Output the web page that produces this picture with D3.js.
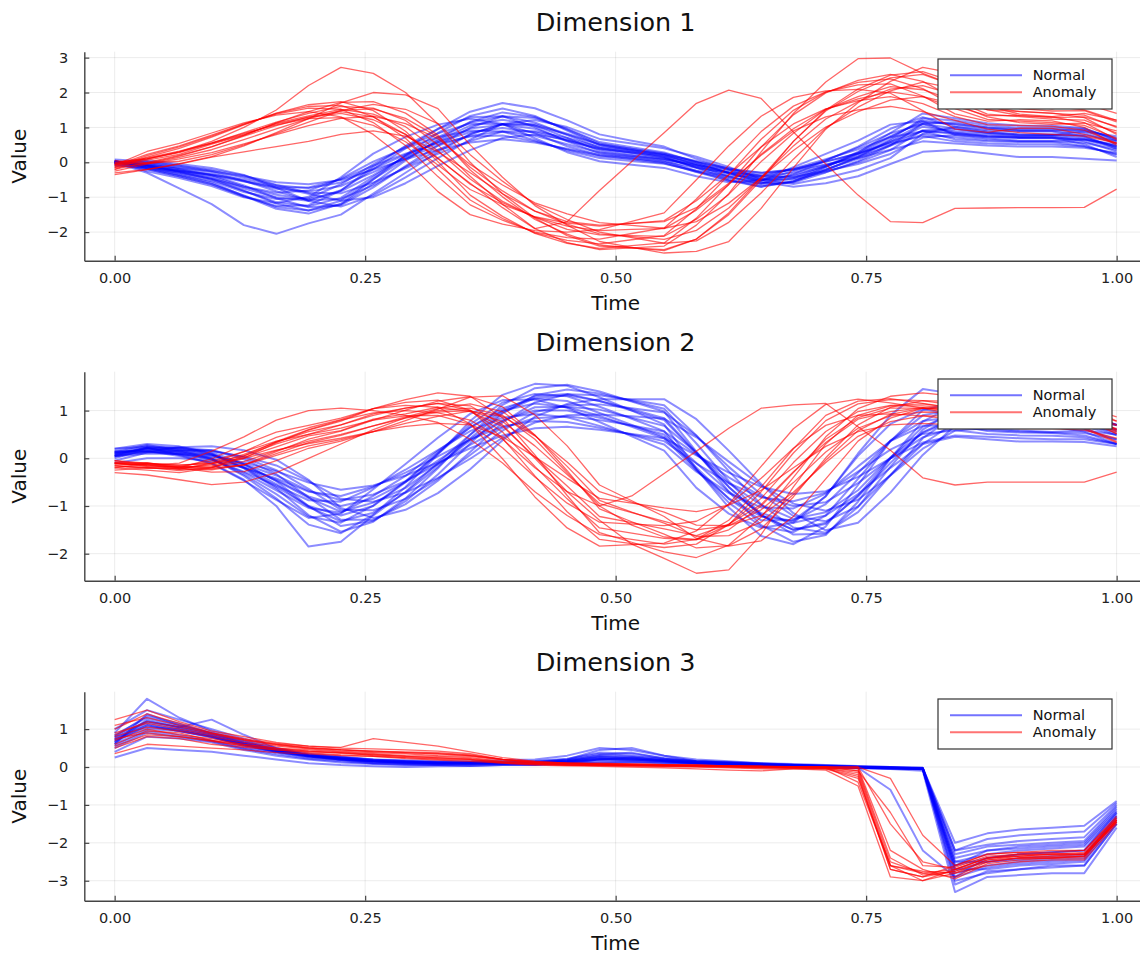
<!DOCTYPE html>
<html><head><meta charset="utf-8">
<script src="https://cdn.jsdelivr.net/npm/d3@7"></script>
<style>
body{margin:0;background:#fff;}
svg{display:block;font-family:"DejaVu Sans",sans-serif;}
</style>
</head><body>
<svg id="chart" width="1140" height="955"></svg>
<script>
// ---------------- data ----------------
const times = [0,0.0323,0.0645,0.0968,0.129,0.1613,0.1935,0.2258,0.2581,0.2903,0.3226,0.3548,0.3871,0.4194,0.4516,0.4839,0.5161,0.5484,0.5806,0.6129,0.6452,0.6774,0.7097,0.7419,0.7742,0.8065,0.8387,0.871,0.9032,0.9355,0.9677,1];
const xTickValues = [0, 0.25, 0.5, 0.75, 1];
const panelTitles = ["Dimension 1", "Dimension 2", "Dimension 3"];
const xLabel = "Time";
const yLabel = "Value";
const legendLabels = ["Normal", "Anomaly"];
const yTicks1 = [-2, -1, 0, 1, 2, 3];
const yTicks2 = [-2, -1, 0, 1];
const yTicks3 = [-3, -2, -1, 0, 1];
const yDomain1 = [-2.82, 3.17];
const yDomain2 = [-2.566, 1.815];
const yDomain3 = [-3.527, 1.987];

const dim1Normal = [
[0.02,-0.08,-0.26,-0.4,-0.7,-0.93,-1.06,-0.83,-0.37,0.17,0.58,0.97,1.08,0.96,0.63,0.37,0.24,0.1,-0.13,-0.33,-0.52,-0.36,-0.12,0.22,0.58,1.02,0.88,0.82,0.74,0.76,0.68,0.46],
[0.03,-0.2,-0.4,-0.63,-0.98,-1.25,-1.23,-0.81,-0.12,0.47,0.96,1.29,1.32,1.01,0.6,0.26,0.13,0,-0.28,-0.53,-0.61,-0.34,0.05,0.45,0.96,1.29,1.02,0.92,0.88,0.88,0.75,0.39],
[-0.02,-0.04,-0.2,-0.37,-0.66,-1.03,-1.29,-1.23,-0.72,-0.11,0.48,0.99,1.32,1.27,0.96,0.58,0.43,0.28,0,-0.31,-0.59,-0.58,-0.29,0.03,0.48,1.11,1.14,1,0.92,0.92,0.93,0.69],
[0.04,-0.16,-0.3,-0.47,-0.7,-0.87,-0.81,-0.47,0.02,0.41,0.72,0.91,0.88,0.63,0.34,0.12,0.04,-0.04,-0.24,-0.39,-0.41,-0.18,0.09,0.37,0.72,0.89,0.66,0.6,0.58,0.58,0.47,0.21],
[-0.03,0,-0.1,-0.21,-0.38,-0.65,-0.87,-0.89,-0.58,-0.17,0.24,0.61,0.88,0.89,0.7,0.44,0.34,0.24,0.04,-0.17,-0.39,-0.42,-0.25,-0.05,0.24,0.71,0.78,0.68,0.62,0.62,0.65,0.51],
[0.05,-0.26,-0.45,-0.68,-1,-1.17,-0.99,-0.43,0.25,0.73,1.08,1.25,1.1,0.69,0.29,0.03,-0.07,-0.16,-0.4,-0.57,-0.52,-0.14,0.24,0.62,1.08,1.18,0.78,0.72,0.71,0.71,0.52,0.15],
[-0.05,0.06,-0.05,-0.16,-0.36,-0.73,-1.11,-1.27,-0.95,-0.43,0.12,0.65,1.1,1.21,1.01,0.67,0.54,0.4,0.16,-0.13,-0.48,-0.62,-0.44,-0.22,0.12,0.82,1.02,0.88,0.79,0.79,0.88,0.75],
[0,-0.14,-0.35,-0.58,-0.96,-1.33,-1.47,-1.19,-0.49,0.21,0.84,1.33,1.54,1.33,0.91,0.49,0.33,0.16,-0.16,-0.49,-0.7,-0.54,-0.14,0.28,0.84,1.4,1.26,1.12,1.05,1.05,0.98,0.63],
[0,-0.06,-0.15,-0.26,-0.4,-0.57,-0.63,-0.51,-0.21,0.09,0.36,0.57,0.66,0.57,0.39,0.21,0.15,0.08,-0.08,-0.21,-0.3,-0.22,-0.06,0.12,0.36,0.6,0.54,0.48,0.45,0.45,0.42,0.27],
[-0.06,-0.2,-0.4,-0.62,-0.95,-1.28,-1.38,-1.1,-0.48,0.1,0.62,1.05,1.22,1.06,0.7,0.32,0.19,0.05,-0.25,-0.52,-0.7,-0.55,-0.22,0.14,0.62,1.1,0.97,0.85,0.8,0.8,0.73,0.44],
[0.08,0.02,-0.1,-0.24,-0.44,-0.66,-0.74,-0.58,-0.18,0.22,0.58,0.86,0.98,0.86,0.62,0.38,0.29,0.2,0,-0.18,-0.3,-0.2,0.02,0.26,0.58,0.9,0.82,0.74,0.7,0.7,0.66,0.46],
[0,-0.3,-0.75,-1.2,-1.8,-2.05,-1.75,-1.5,-0.9,-0.3,0.3,0.8,1.1,1.05,0.8,0.5,0.35,0.2,-0.05,-0.3,-0.5,-0.45,-0.2,0.1,0.5,0.9,0.85,0.75,0.7,0.7,0.65,0.4],
[0,-0.1,-0.25,-0.45,-0.75,-1,-1.1,-0.8,-0.2,0.4,0.95,1.45,1.7,1.55,1.2,0.8,0.62,0.45,0.1,-0.2,-0.45,-0.4,-0.1,0.3,0.75,1.15,1.1,1,0.95,0.95,0.9,0.6],
[-0.1,-0.15,-0.25,-0.35,-0.5,-0.7,-0.9,-1.1,-1,-0.6,-0.1,0.35,0.7,0.8,0.65,0.4,0.28,0.15,-0.05,-0.3,-0.55,-0.7,-0.6,-0.4,-0.05,0.3,0.35,0.25,0.15,0.15,0.1,0.05],
[0,-0.12,-0.3,-0.5,-0.82,-1.14,-1.26,-1.02,-0.42,0.18,0.72,1.14,1.32,1.14,0.78,0.42,0.28,0.14,-0.14,-0.42,-0.6,-0.46,-0.12,0.24,0.72,1.2,1.08,0.96,0.9,0.9,0.84,0.54],
[0,-0.08,-0.2,-0.34,-0.54,-0.76,-0.84,-0.68,-0.28,0.12,0.48,0.76,0.88,0.76,0.52,0.28,0.19,0.1,-0.1,-0.28,-0.4,-0.3,-0.08,0.16,0.48,0.8,0.72,0.64,0.6,0.6,0.56,0.36],
[0.04,-0.17,-0.36,-0.54,-0.85,-1.05,-1.03,-0.63,-0.06,0.45,0.83,1.11,1.09,0.83,0.46,0.2,0.09,-0.03,-0.27,-0.45,-0.52,-0.25,0.06,0.42,0.83,1.1,0.83,0.77,0.73,0.74,0.6,0.31],
[-0.02,-0.01,-0.16,-0.28,-0.53,-0.83,-1.09,-1.05,-0.66,-0.13,0.35,0.81,1.09,1.09,0.82,0.52,0.39,0.25,0.02,-0.23,-0.5,-0.49,-0.28,0,0.35,0.92,0.95,0.85,0.77,0.78,0.78,0.61],
[-0.01,-0.09,-0.28,-0.48,-0.81,-1.18,-1.38,-1.21,-0.61,0.05,0.66,1.16,1.43,1.3,0.94,0.54,0.38,0.22,-0.08,-0.4,-0.65,-0.56,-0.22,0.16,0.66,1.26,1.2,1.06,0.99,0.99,0.96,0.66],
[0.02,-0.11,-0.23,-0.37,-0.55,-0.72,-0.72,-0.49,-0.1,0.25,0.54,0.74,0.77,0.6,0.37,0.17,0.1,0.02,-0.16,-0.3,-0.36,-0.2,0.02,0.25,0.54,0.75,0.6,0.54,0.52,0.52,0.45,0.24]
];
const dim1Anomaly = [
[-0.12,0.06,0.23,0.52,0.78,1.12,1.33,1.52,1.38,1.02,0.33,-0.48,-1.12,-1.58,-1.92,-2.08,-2.1,-2.12,-1.63,-0.92,0.02,0.83,1.52,1.88,2.17,2.08,1.77,1.38,1.31,1.24,1.21,0.84],
[-0.2,0.15,0.4,0.72,1.07,1.41,1.65,1.74,1.48,0.89,0.02,-0.94,-1.55,-2.04,-2.32,-2.47,-2.39,-2.31,-1.6,-0.63,0.44,1.36,1.99,2.35,2.52,2.32,1.83,1.5,1.46,1.41,1.28,0.8],
[-0.05,-0.03,0.18,0.44,0.77,1.13,1.45,1.72,1.74,1.41,0.78,-0.22,-0.99,-1.64,-2.06,-2.37,-2.45,-2.53,-2.2,-1.45,-0.44,0.6,1.47,2.03,2.42,2.52,2.19,1.72,1.54,1.47,1.48,1.16],
[-0.02,0.13,0.32,0.56,0.83,1.07,1.25,1.28,1.06,0.59,-0.08,-0.78,-1.21,-1.56,-1.74,-1.83,-1.75,-1.67,-1.1,-0.35,0.44,1.1,1.53,1.77,1.88,1.68,1.31,1.08,1.06,1.03,0.92,0.54],
[-0.25,-0.05,0.1,0.28,0.53,0.79,1.05,1.26,1.32,1.11,0.68,-0.06,-0.65,-1.16,-1.48,-1.73,-1.81,-1.89,-1.7,-1.17,-0.44,0.34,1.01,1.45,1.78,1.88,1.67,1.3,1.14,1.09,1.12,0.9],
[-0.1,0.23,0.47,0.78,1.1,1.38,1.55,1.52,1.14,0.48,-0.41,-1.22,-1.66,-2,-2.16,-2.2,-2.04,-1.88,-1.05,-0.08,0.88,1.61,2.02,2.22,2.25,1.9,1.39,1.18,1.22,1.19,1,0.49],
[0.05,-0.02,0.03,0.22,0.5,0.82,1.15,1.48,1.66,1.52,1.11,0.22,-0.54,-1.2,-1.64,-2,-2.16,-2.32,-2.25,-1.72,-0.88,0.09,0.98,1.58,2.05,2.3,2.11,1.62,1.38,1.31,1.4,1.21],
[-0.05,0.1,0.3,0.6,1,1.5,2.2,2.72,2.55,2,1.1,0,-0.9,-1.6,-2.1,-2.4,-2.45,-2.5,-2.2,-1.5,-0.5,0.6,1.5,2.1,2.5,2.6,2.3,1.6,1.45,1.4,1.35,1],
[0,0.1,0.3,0.55,0.85,1.15,1.4,1.6,1.55,1.2,0.5,-0.4,-1.2,-1.9,-2.3,-2.5,-2.45,-2.4,-1.8,-0.9,0.3,1.4,2.3,2.97,2.99,2.55,2.2,1.9,1.7,1.6,1.5,1.2],
[-0.2,0,0.2,0.45,0.75,1.05,1.3,1.45,1.3,0.8,0.1,-0.6,-1.3,-1.9,-1.7,-0.81,0.02,0.85,1.69,2.07,1.83,0.87,-0.05,-0.94,-1.7,-1.73,-1.32,-1.31,-1.3,-1.3,-1.29,-0.77],
[-0.08,0.31,0.54,0.84,1.13,1.35,1.45,1.3,0.8,0.07,-0.84,-1.5,-1.77,-1.96,-2,-1.93,-1.69,-1.45,-0.5,0.47,1.32,1.86,2.05,2.09,1.98,1.48,0.95,0.86,0.98,0.97,0.8,0.55],
[-0.35,-0.21,-0.04,0.16,0.47,0.85,1.25,1.7,2,1.93,1.54,0.5,-0.43,-1.24,-1.8,-2.27,-2.44,-2.6,-2.55,-2.27,-1.32,-0.16,0.95,1.71,2.32,2.72,2.55,1.94,1.62,1.53,1.68,1.4],
[-0.3,-0.2,-0.05,0.15,0.3,0.45,0.6,0.8,0.9,0.75,0.3,-0.3,-0.9,-1.4,-1.7,-1.8,-1.75,-1.7,-1.3,-0.6,0.2,0.9,1.3,1.5,1.6,1.45,1.2,0.95,0.85,0.8,0.75,0.55],
[-0.07,0.1,0.28,0.54,0.8,1.1,1.29,1.4,1.22,0.8,0.12,-0.63,-1.16,-1.57,-1.83,-1.96,-1.92,-1.9,-1.37,-0.64,0.23,0.96,1.52,1.82,2.02,1.88,1.54,1.23,1.18,1.14,1.06,0.69],
[-0.15,-0.04,0.14,0.36,0.65,0.96,1.25,1.49,1.53,1.26,0.73,-0.14,-0.82,-1.4,-1.77,-2.05,-2.13,-2.21,-1.95,-1.31,-0.44,0.47,1.24,1.74,2.1,2.2,1.93,1.51,1.34,1.28,1.3,1.03],
[-0.15,0.19,0.44,0.75,1.09,1.4,1.6,1.63,1.31,0.69,-0.2,-1.08,-1.61,-2.02,-2.24,-2.34,-2.22,-2.1,-1.33,-0.36,0.66,1.49,2.01,2.29,2.39,2.11,1.61,1.34,1.34,1.3,1.14,0.65]
];
const dim2Normal = [
[0.1,0.2,0.13,0.08,-0.13,-0.47,-0.83,-1.12,-0.93,-0.62,-0.13,0.37,0.78,1.07,1.08,1.02,0.85,0.68,0.12,-0.52,-0.98,-1.27,-1.13,-0.67,0.02,0.53,0.82,0.73,0.71,0.67,0.67,0.48],
[0.2,0.24,0.14,-0.01,-0.34,-0.75,-1.22,-1.35,-0.99,-0.48,0.11,0.71,1.17,1.35,1.3,1.08,0.83,0.57,-0.24,-0.93,-1.43,-1.55,-1.2,-0.43,0.36,0.9,1.02,0.87,0.82,0.81,0.74,0.5],
[0,0.2,0.22,0.17,-0.02,-0.33,-0.82,-1.29,-1.29,-0.96,-0.47,0.13,0.75,1.17,1.34,1.32,1.22,1.11,0.48,-0.27,-0.97,-1.45,-1.56,-1.13,-0.36,0.42,0.9,0.93,0.86,0.83,0.84,0.7],
[0.12,0.16,0.08,-0.03,-0.28,-0.57,-0.88,-0.91,-0.61,-0.24,0.17,0.57,0.85,0.93,0.86,0.68,0.49,0.29,-0.28,-0.73,-1.03,-1.05,-0.74,-0.17,0.36,0.68,0.7,0.57,0.54,0.53,0.48,0.3],
[-0.05,0.12,0.16,0.15,0.04,-0.15,-0.48,-0.85,-0.91,-0.72,-0.41,-0.01,0.43,0.75,0.9,0.92,0.88,0.83,0.44,-0.07,-0.57,-0.95,-1.1,-0.87,-0.36,0.2,0.58,0.63,0.58,0.55,0.58,0.5],
[0.05,0.22,0.07,-0.11,-0.47,-0.87,-1.25,-1.16,-0.65,-0.12,0.43,0.93,1.22,1.23,1.06,0.76,0.46,0.16,-0.62,-1.16,-1.46,-1.35,-0.79,0.05,0.72,1.03,0.92,0.69,0.66,0.66,0.56,0.3],
[0.15,0.14,0.23,0.25,0.17,-0.03,-0.45,-1.04,-1.25,-1.08,-0.73,-0.23,0.38,0.87,1.14,1.24,1.24,1.24,0.82,0.16,-0.54,-1.15,-1.51,-1.35,-0.72,0.07,0.68,0.81,0.74,0.7,0.76,0.7],
[0.12,0.26,0.21,0.09,-0.21,-0.63,-1.19,-1.54,-1.33,-0.84,-0.21,0.49,1.12,1.47,1.54,1.4,1.19,0.98,0.14,-0.7,-1.4,-1.75,-1.61,-0.91,0,0.77,1.12,1.05,0.98,0.96,0.92,0.7],
[0.04,0.1,0.09,0.05,-0.09,-0.27,-0.51,-0.66,-0.57,-0.36,-0.09,0.21,0.48,0.63,0.66,0.6,0.51,0.42,0.06,-0.3,-0.6,-0.75,-0.69,-0.39,0,0.33,0.48,0.45,0.42,0.4,0.4,0.3],
[0.05,0.15,0.05,-0.1,-0.45,-1,-1.85,-1.75,-1.2,-0.7,-0.1,0.5,1,1.3,1.35,1.2,1,0.8,0.1,-0.6,-1.2,-1.5,-1.35,-0.8,-0.1,0.55,0.85,0.8,0.75,0.72,0.7,0.55],
[0.15,0.28,0.17,0,-0.37,-0.84,-1.39,-1.57,-1.18,-0.6,0.08,0.78,1.33,1.56,1.52,1.28,1,0.71,-0.22,-1.03,-1.63,-1.8,-1.43,-0.56,0.36,1.01,1.18,1.02,0.96,0.95,0.87,0.6],
[-0.1,0,0,-0.05,-0.2,-0.45,-0.8,-1,-0.85,-0.5,-0.05,0.4,0.8,1,1,0.85,0.68,0.5,-0.1,-0.7,-1.15,-1.35,-1.2,-0.75,-0.2,0.3,0.45,0.4,0.35,0.35,0.34,0.25],
[0.2,0.3,0.25,0.1,-0.2,-0.6,-1,-1.2,-1,-0.5,0.1,0.65,1.05,1.25,1.2,0.95,0.7,0.45,-0.2,-0.85,-1.3,-1.3,-0.8,0.1,0.9,1.45,1.35,1.1,1,0.98,0.95,0.7],
[0.1,0.22,0.18,0.08,-0.18,-0.54,-1.02,-1.32,-1.14,-0.72,-0.18,0.42,0.96,1.26,1.32,1.2,1.03,0.84,0.12,-0.6,-1.2,-1.5,-1.38,-0.78,0,0.66,0.96,0.9,0.84,0.82,0.79,0.6],
[0.04,0.14,0.12,0.06,-0.12,-0.36,-0.68,-0.88,-0.76,-0.48,-0.12,0.28,0.64,0.84,0.88,0.8,0.69,0.56,0.08,-0.4,-0.8,-1,-0.92,-0.52,0,0.44,0.64,0.6,0.56,0.54,0.53,0.4],
[0.08,0.21,0.1,-0.02,-0.3,-0.67,-1.04,-1.14,-0.79,-0.37,0.15,0.65,1,1.15,1.07,0.89,0.66,0.42,-0.25,-0.84,-1.22,-1.31,-0.96,-0.31,0.37,0.78,0.87,0.71,0.69,0.67,0.62,0.39],
[0.13,0.17,0.18,0.17,0.02,-0.25,-0.64,-1.08,-1.09,-0.85,-0.43,0.07,0.58,0.97,1.11,1.13,1.05,0.96,0.47,-0.18,-0.76,-1.21,-1.32,-1.01,-0.35,0.3,0.75,0.77,0.73,0.69,0.72,0.59],
[0.06,0.23,0.22,0.13,-0.12,-0.48,-1,-1.42,-1.31,-0.9,-0.34,0.31,0.94,1.32,1.44,1.36,1.2,1.04,0.31,-0.48,-1.18,-1.6,-1.58,-1.02,-0.18,0.6,1.01,0.99,0.92,0.9,0.88,0.7],
[0.08,0.13,0.09,0.01,-0.19,-0.42,-0.7,-0.79,-0.59,-0.3,0.04,0.39,0.67,0.78,0.76,0.64,0.5,0.36,-0.11,-0.52,-0.82,-0.9,-0.72,-0.28,0.18,0.51,0.59,0.51,0.48,0.47,0.44,0.3]
];
const dim2Anomaly = [
[-0.1,-0.17,-0.18,-0.16,0.02,0.24,0.47,0.58,0.82,0.93,1.07,0.98,0.67,0.03,-0.58,-1.22,-1.35,-1.48,-1.62,-1.38,-0.97,-0.28,0.33,0.82,0.98,1.06,0.99,0.96,0.89,0.89,0.84,0.62],
[-0.25,-0.2,-0.23,-0.1,0.14,0.44,0.64,0.81,1.04,1.17,1.22,1.01,0.42,-0.37,-1.12,-1.7,-1.79,-1.87,-1.8,-1.39,-0.7,0.11,0.79,1.14,1.23,1.21,1.11,1.05,1.02,1,0.88,0.51],
[-0.05,-0.14,-0.23,-0.24,-0.14,0.14,0.4,0.57,0.8,1.01,1.2,1.29,1.08,0.49,-0.26,-1.06,-1.33,-1.59,-1.88,-1.83,-1.48,-0.81,0.01,0.7,1.07,1.21,1.19,1.13,1.06,1.02,1.08,0.87],
[-0.1,-0.16,-0.17,-0.06,0.14,0.36,0.5,0.63,0.8,0.89,0.9,0.71,0.22,-0.39,-0.94,-1.34,-1.38,-1.41,-1.32,-0.97,-0.42,0.21,0.69,0.9,0.93,0.89,0.81,0.77,0.74,0.74,0.62,0.33],
[-0.2,-0.1,-0.17,-0.2,-0.14,0.06,0.26,0.39,0.56,0.73,0.88,0.99,0.88,0.47,-0.08,-0.7,-0.92,-1.13,-1.4,-1.41,-1.2,-0.71,-0.09,0.46,0.77,0.89,0.89,0.85,0.78,0.76,0.82,0.69],
[-0.15,-0.21,-0.2,-0.01,0.28,0.55,0.69,0.84,1.04,1.11,1.07,0.72,-0.01,-0.81,-1.46,-1.84,-1.81,-1.78,-1.52,-0.96,-0.17,0.62,1.13,1.24,1.16,1.05,0.92,0.87,0.86,0.86,0.65,0.35],
[-0.1,-0.15,-0.1,0.15,0.45,0.8,1,1.05,1,0.9,0.75,0.4,-0.1,-0.7,-1.2,-1.6,-1.7,-1.8,-1.7,-1.3,-0.6,0.2,0.9,1.2,1.25,1.15,1.05,1,0.95,0.95,0.9,0.6],
[-0.1,-0.09,-0.2,-0.29,-0.28,-0.05,0.21,0.36,0.56,0.79,1.03,1.28,1.31,0.91,0.26,-0.56,-0.89,-1.22,-1.68,-1.84,-1.73,-1.22,-0.43,0.36,0.84,1.05,1.08,1.03,0.94,0.9,0.95,0.7],
[-0.05,-0.1,-0.15,-0.1,0.05,0.3,0.5,0.7,0.9,1.05,1.15,1.1,0.7,0,-0.7,-1.3,-1.8,-2.1,-2.41,-2.34,-1.6,-0.6,0.3,0.9,1.1,1.1,1.05,1,0.95,0.9,0.85,0.55],
[-0.2,-0.25,-0.3,-0.2,0.05,0.35,0.6,0.8,0.95,1,0.95,0.8,0.4,-0.2,-0.7,-1,-0.79,-0.32,0.15,0.63,1.05,1.12,1.15,0.66,0.17,-0.41,-0.56,-0.5,-0.5,-0.5,-0.5,-0.29],
[-0.16,-0.19,-0.26,-0.19,0,0.33,0.59,0.78,1.04,1.23,1.37,1.3,0.85,0.07,-0.78,-1.56,-1.76,-1.96,-2.08,-1.82,-1.23,-0.4,0.45,1.04,1.3,1.37,1.3,1.23,1.18,1.14,1.11,0.78],
[-0.08,-0.11,-0.14,-0.11,0,0.17,0.31,0.42,0.56,0.67,0.73,0.7,0.45,0.03,-0.42,-0.84,-0.94,-1.04,-1.12,-0.98,-0.67,-0.2,0.25,0.56,0.7,0.73,0.7,0.67,0.62,0.62,0.59,0.42],
[-0.3,-0.35,-0.45,-0.55,-0.5,-0.3,0,0.3,0.6,0.85,1,1.05,0.9,0.4,-0.3,-1,-1.4,-1.65,-1.7,-1.5,-1,-0.3,0.4,0.85,1.05,1.05,1,0.95,0.9,0.9,0.85,0.6],
[-0.18,-0.19,-0.21,-0.13,0.08,0.34,0.56,0.7,0.93,1.05,1.15,1,0.55,-0.17,-0.85,-1.46,-1.57,-1.68,-1.71,-1.39,-0.84,-0.09,0.56,0.98,1.11,1.14,1.05,1.01,0.96,0.95,0.86,0.57],
[-0.13,-0.12,-0.2,-0.22,-0.14,0.1,0.33,0.48,0.68,0.87,1.04,1.14,0.98,0.48,-0.17,-0.88,-1.13,-1.36,-1.64,-1.62,-1.34,-0.76,-0.04,0.58,0.92,1.05,1.04,0.99,0.92,0.89,0.95,0.78],
[-0.1,-0.13,-0.19,-0.18,-0.07,0.16,0.36,0.5,0.68,0.84,0.97,1,0.77,0.26,-0.34,-0.95,-1.14,-1.32,-1.5,-1.41,-1.08,-0.51,0.13,0.63,0.89,0.97,0.95,0.9,0.84,0.82,0.79,0.52]
];
const dim3Normal = [
[0.7,1.15,1,0.82,0.6,0.42,0.3,0.22,0.15,0.12,0.1,0.1,0.1,0.1,0.15,0.25,0.22,0.18,0.12,0.1,0.06,0.04,0.02,0,-0.02,-0.04,-2.6,-2.4,-2.3,-2.25,-2.2,-1.25],
[1,1.5,1.25,1,0.75,0.5,0.35,0.28,0.2,0.18,0.15,0.15,0.18,0.2,0.3,0.5,0.45,0.3,0.2,0.15,0.1,0.08,0.05,0.03,0,-0.02,-2.2,-1.9,-1.8,-1.75,-1.7,-0.95],
[0.4,0.8,0.75,0.65,0.45,0.3,0.2,0.12,0.08,0.05,0.05,0.03,0.05,0.05,0.08,0.1,0.12,0.1,0.08,0.05,0.03,0.02,0,-0.02,-0.04,-0.06,-3,-2.8,-2.7,-2.65,-2.6,-1.5],
[0.9,1.8,1.3,0.95,0.7,0.45,0.3,0.25,0.2,0.15,0.12,0.12,0.12,0.15,0.2,0.35,0.3,0.2,0.15,0.12,0.1,0.06,0.04,0.02,0,-0.02,-2.4,-2.2,-2.1,-2.05,-2,-1.1],
[0.25,0.5,0.45,0.4,0.3,0.2,0.1,0.05,0.02,0,0.02,0.03,0.05,0.05,0.1,0.2,0.25,0.15,0.1,0.05,0.02,0,-0.02,-0.03,-0.05,-0.1,-3.3,-2.9,-2.85,-2.8,-2.8,-1.6],
[0.8,1.2,1.05,1.25,0.85,0.5,0.3,0.2,0.15,0.1,0.1,0.08,0.1,0.12,0.2,0.45,0.5,0.3,0.15,0.1,0.08,0.05,0.02,0,-0.02,-0.05,-2.8,-2.6,-2.5,-2.45,-2.4,-1.35],
[0.6,1,0.95,0.8,0.55,0.4,0.28,0.2,0.12,0.1,0.08,0.1,0.12,0.1,0.12,0.2,0.18,0.15,0.1,0.08,0.05,0.03,0,-0.02,-0.04,-0.05,-2.5,-2.5,-2.45,-2.4,-2.35,-1.3],
[0.85,1.3,1.1,0.9,0.65,0.45,0.32,0.25,0.18,0.15,0.12,0.12,0.1,0.12,0.18,0.3,0.28,0.22,0.15,0.12,0.08,0.05,0.03,0,-0.02,-0.03,-2,-1.75,-1.65,-1.6,-1.55,-0.9],
[0.55,0.95,0.85,0.7,0.5,0.38,0.25,0.18,0.1,0.08,0.06,0.08,0.08,0.08,0.1,0.15,0.15,0.12,0.1,0.08,0.05,0.02,0,-0.02,-0.03,-0.05,-2.7,-2.7,-2.6,-2.55,-2.5,-1.45],
[0.75,1.1,0.95,0.8,0.58,0.4,0.28,0.2,0.15,0.12,0.1,0.1,0.1,0.1,0.12,0.2,0.2,0.15,0.1,0.08,0.05,0.02,0,-0.02,-0.6,-2.2,-2.9,-2.4,-2.3,-2.25,-2.2,-1.2],
[0.65,1.25,1.05,0.85,0.62,0.45,0.32,0.24,0.16,0.14,0.12,0.1,0.12,0.1,0.14,0.22,0.2,0.16,0.12,0.1,0.06,0.04,0.02,0,-0.02,-0.04,-2.3,-2.1,-2.05,-2,-1.95,-1.05],
[0.7,1.05,1,0.8,0.6,0.42,0.3,0.22,0.15,0.12,0.1,0.1,0.1,0.12,0.15,0.28,0.25,0.18,0.12,0.1,0.06,0.04,0.02,0,-0.02,-0.04,-3.1,-2.75,-2.7,-2.6,-2.6,-1.5],
[0.75,1.2,1.05,0.85,0.62,0.44,0.3,0.22,0.16,0.13,0.11,0.1,0.1,0.12,0.16,0.26,0.24,0.18,0.13,0.1,0.07,0.04,0.02,0,-0.02,-0.04,-2.5,-2.3,-2.2,-2.15,-2.1,-1.2],
[0.65,1.1,0.95,0.78,0.58,0.4,0.28,0.2,0.14,0.11,0.09,0.09,0.1,0.1,0.14,0.22,0.2,0.16,0.11,0.09,0.06,0.03,0.01,-0.01,-0.03,-0.05,-2.7,-2.5,-2.4,-2.35,-2.3,-1.3],
[0.8,1.35,1.15,0.9,0.68,0.48,0.33,0.26,0.19,0.16,0.14,0.13,0.14,0.16,0.22,0.38,0.35,0.24,0.16,0.13,0.09,0.06,0.04,0.01,-0.01,-0.03,-2.2,-2.05,-1.95,-1.9,-1.85,-1],
[0.5,0.9,0.8,0.68,0.48,0.34,0.22,0.15,0.09,0.06,0.05,0.06,0.07,0.07,0.09,0.12,0.14,0.11,0.09,0.06,0.04,0.02,0,-0.02,-0.04,-0.06,-2.9,-2.65,-2.55,-2.5,-2.45,-1.4],
[0.6,1.4,1.1,0.88,0.64,0.46,0.31,0.23,0.17,0.13,0.11,0.11,0.11,0.13,0.17,0.32,0.38,0.22,0.14,0.11,0.07,0.05,0.03,0.01,-0.01,-0.03,-2.6,-2.2,-2.15,-2.1,-2.05,-1.15]
];
const dim3Anomaly = [
[0.7,1,0.85,0.75,0.6,0.5,0.45,0.4,0.35,0.3,0.28,0.25,0.15,0.1,0.08,0.07,0.06,0.05,0.04,0.02,0.01,0,0,-0.05,-2.4,-2.85,-2.75,-2.45,-2.35,-2.35,-2.3,-1.4],
[1.25,1.5,1.2,0.95,0.8,0.65,0.55,0.5,0.48,0.45,0.42,0.35,0.2,0.15,0.1,0.08,0.06,0.05,0.04,0.02,0,0,-0.02,-0.2,-2.7,-2.9,-2.6,-2.3,-2.25,-2.2,-2.2,-1.3],
[0.35,0.6,0.55,0.5,0.45,0.38,0.35,0.3,0.28,0.25,0.2,0.18,0.1,0.08,0.05,0.04,0.03,0.02,0,-0.02,-0.05,-0.05,-0.08,-0.5,-2.9,-3,-2.8,-2.6,-2.5,-2.45,-2.45,-1.5],
[0.9,1.15,1,0.85,0.7,0.58,0.5,0.45,0.4,0.38,0.35,0.3,0.2,0.12,0.1,0.08,0.08,0.06,0.05,0.03,0.02,0,0,0,-1.5,-2.5,-2.7,-2.4,-2.3,-2.3,-2.3,-1.4],
[0.5,0.8,0.75,0.6,0.52,0.45,0.4,0.38,0.3,0.25,0.22,0.2,0.12,0.08,0.05,0.05,0.04,0.03,0.02,0,-0.02,-0.03,-0.05,-0.3,-2.6,-2.8,-2.9,-2.5,-2.4,-2.35,-2.35,-1.45],
[1.1,1.3,1.1,0.9,0.75,0.62,0.55,0.52,0.75,0.65,0.55,0.4,0.25,0.15,0.1,0.1,0.08,0.06,0.05,0.03,0.02,0,0,-0.1,-1.2,-2.6,-2.65,-2.35,-2.3,-2.3,-2.25,-1.35],
[0.6,0.95,0.9,0.7,0.55,0.45,0.38,0.32,0.28,0.22,0.18,0.15,0.1,0.05,0.03,0.02,0,-0.02,-0.05,-0.08,-0.1,-0.05,-0.05,-0.02,-2.2,-2.7,-2.95,-2.55,-2.45,-2.4,-2.4,-1.4],
[0.8,1.05,0.95,0.8,0.65,0.55,0.48,0.42,0.38,0.35,0.3,0.28,0.18,0.12,0.1,0.08,0.06,0.05,0.05,0.03,0.02,0.01,0,-0.4,-2.6,-3,-2.7,-2.4,-2.35,-2.3,-2.3,-1.4],
[0.75,0.9,0.8,0.7,0.6,0.5,0.42,0.36,0.32,0.28,0.25,0.22,0.14,0.1,0.06,0.05,0.05,0.04,0.03,0.02,0,0,0,0,-0.3,-1.8,-2.6,-2.3,-2.25,-2.25,-2.2,-1.35],
[1,1.4,1.15,0.9,0.72,0.6,0.5,0.45,0.42,0.4,0.38,0.32,0.2,0.12,0.08,0.06,0.05,0.04,0.03,0.02,0,-0.02,-0.03,-0.15,-2.6,-2.75,-2.8,-2.45,-2.4,-2.4,-2.35,-1.45],
[0.85,1.2,1.05,0.88,0.72,0.6,0.52,0.46,0.42,0.38,0.35,0.3,0.2,0.13,0.09,0.07,0.06,0.05,0.04,0.02,0.01,0,-0.01,-0.1,-2.5,-2.8,-2.7,-2.4,-2.35,-2.3,-2.3,-1.4],
[0.55,0.85,0.8,0.68,0.56,0.48,0.42,0.38,0.33,0.28,0.24,0.2,0.12,0.08,0.05,0.04,0.03,0.02,0.01,0,-0.02,-0.03,-0.04,-0.25,-2.7,-2.9,-2.75,-2.5,-2.4,-2.4,-2.35,-1.45]
];

// ---------------- drawing ----------------
const panels = [
  {title: panelTitles[0], domain: yDomain1, ticks: yTicks1, normal: dim1Normal, anomaly: dim1Anomaly},
  {title: panelTitles[1], domain: yDomain2, ticks: yTicks2, normal: dim2Normal, anomaly: dim2Anomaly},
  {title: panelTitles[2], domain: yDomain3, ticks: yTicks3, normal: dim3Normal, anomaly: dim3Anomaly}
];
const svg = d3.select("#chart");
const left = 84.3, right = 1147, plotH = 209, firstTop = 51.7, step = 320;
const x = d3.scaleLinear().domain([-0.0303, 1.0303]).range([left, right]);
const xFmt = d3.format(".2f");
const yFmt = d3.format("d");

panels.forEach((p, k) => {
  const top = firstTop + step * k, bottom = top + plotH;
  const y = d3.scaleLinear().domain(p.domain).range([bottom, top]);
  const g = svg.append("g");
  const clipId = "clip" + k;
  svg.append("clipPath").attr("id", clipId).append("rect")
     .attr("x", left).attr("y", top).attr("width", right - left).attr("height", plotH);

  // grid
  g.selectAll(".gx").data(xTickValues).join("line")
    .attr("x1", d => x(d)).attr("x2", d => x(d)).attr("y1", top).attr("y2", bottom)
    .attr("stroke", "#000").attr("stroke-opacity", 0.1).attr("stroke-width", 0.8);
  g.selectAll(".gy").data(p.ticks).join("line")
    .attr("x1", left).attr("x2", right).attr("y1", d => y(d)).attr("y2", d => y(d))
    .attr("stroke", "#000").attr("stroke-opacity", 0.1).attr("stroke-width", 0.8);

  // series
  const line = d3.line().x((d, i) => x(times[i])).y(d => y(d));
  const lg = g.append("g").attr("clip-path", `url(#${clipId})`).attr("fill", "none")
    .attr("stroke-linejoin", "round");
  lg.selectAll(".n").data(p.normal).join("path")
    .attr("d", line).attr("stroke", "#0000ff").attr("stroke-opacity", 0.45).attr("stroke-width", 2);
  lg.selectAll(".a").data(p.anomaly).join("path")
    .attr("d", line).attr("stroke", "#ff0000").attr("stroke-opacity", 0.6).attr("stroke-width", 1.3);

  // axes
  const ax = g.append("g").attr("transform", `translate(0,${bottom})`)
    .call(d3.axisBottom(x).tickValues(xTickValues).tickFormat(xFmt).tickSizeInner(-5).tickSizeOuter(0).tickPadding(12));
  const ay = g.append("g").attr("transform", `translate(${left},0)`)
    .call(d3.axisLeft(y).tickValues(p.ticks).tickFormat(yFmt).tickSizeInner(-5).tickSizeOuter(0).tickPadding(16));
  [ax, ay].forEach(a => {
    a.select(".domain").attr("stroke", "#444").attr("stroke-width", 1.4);
    a.selectAll(".tick line").attr("stroke", "#444").attr("stroke-width", 1.2);
    a.selectAll(".tick text").attr("fill", "#222").style("font-size", "14.5px").style("font-family", "DejaVu Sans");
  });

  // titles and labels
  g.append("text").attr("x", (left + right) / 2).attr("y", top - 20.7)
    .attr("text-anchor", "middle").attr("fill", "#111").style("font-size", "25.5px").text(p.title);
  g.append("text").attr("x", (left + right) / 2).attr("y", bottom + 49)
    .attr("text-anchor", "middle").attr("fill", "#111").style("font-size", "20px").text(xLabel);
  g.append("text").attr("transform", `translate(26,${(top + bottom) / 2}) rotate(-90)`)
    .attr("text-anchor", "middle").attr("fill", "#111").style("font-size", "20px").text(yLabel);

  // legend
  const lgX = 938, lgY = top + 7.3;
  const leg = g.append("g");
  leg.append("rect").attr("x", lgX).attr("y", lgY).attr("width", 174).attr("height", 50)
    .attr("fill", "#fff").attr("stroke", "#333").attr("stroke-width", 1.2);
  const items = [{label: legendLabels[0], color: "#0000ff"}, {label: legendLabels[1], color: "#ff0000"}];
  items.forEach((it, i) => {
    const ly = lgY + 16.3 + i * 17;
    leg.append("line").attr("x1", lgX + 12).attr("x2", lgX + 84).attr("y1", ly).attr("y2", ly)
      .attr("stroke", it.color).attr("stroke-opacity", 0.55).attr("stroke-width", 2);
    leg.append("text").attr("x", lgX + 94.7).attr("y", ly + 5).attr("fill", "#111")
      .style("font-size", "14.5px").text(it.label);
  });
});
</script>
</body></html>
